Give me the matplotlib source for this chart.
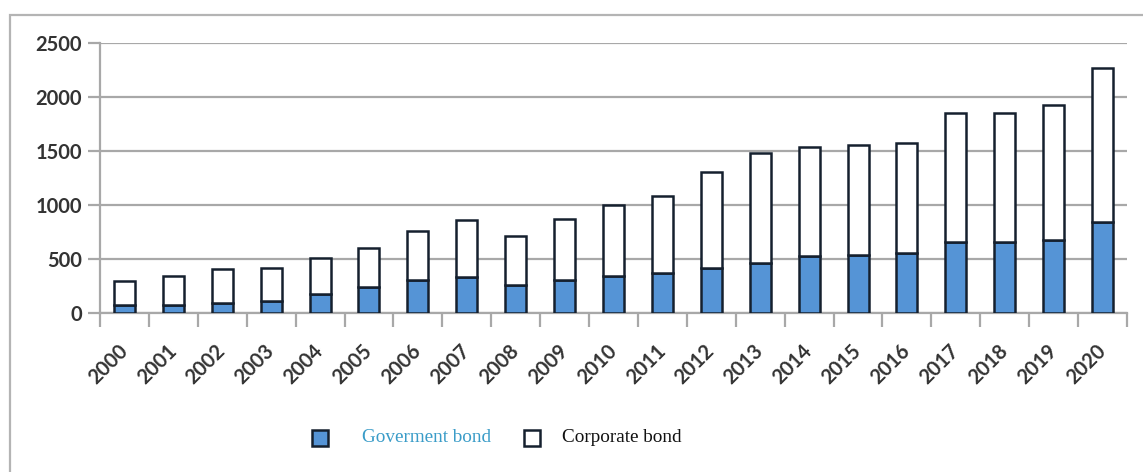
import matplotlib
matplotlib.use("Agg")
import matplotlib.pyplot as plt
from matplotlib.patches import Rectangle
from matplotlib.ticker import FixedLocator, NullFormatter
from matplotlib.transforms import ScaledTranslation
import numpy as np

years = [str(y) for y in range(2000, 2021)]
government = [75, 75, 90, 110, 180, 240, 305, 335, 260, 310, 345,
              370, 415, 465, 530, 540, 560, 655, 660, 675, 840]
total = [295, 345, 405, 420, 510, 600, 755, 860, 715, 875, 1000,
         1080, 1310, 1485, 1535, 1555, 1570, 1850, 1850, 1930, 2270]
corporate = [t - g for t, g in zip(total, government)]
y_ticks = [0, 500, 1000, 1500, 2000, 2500]
series_names = ["Goverment bond", "Corporate bond"]

W, H = 1143, 472
fig = plt.figure(figsize=(W / 100, H / 100), dpi=100)
fig.patch.set_facecolor("white")

# outer frame (left and top edges visible)
fig.add_artist(Rectangle((10 / W, -0.1), 1.2, 1 - 15 / H + 0.1,
                         transform=fig.transFigure, fill=False,
                         edgecolor="#b4b4b4", linewidth=1.6))

ax = fig.add_axes([100 / W, 1 - 313 / H, 1027 / W, 270 / H])
x = np.arange(len(years))
edge = "#15202e"
gov_color = "#5594d6"
bw = 0.43
ax.bar(x, government, width=bw, color=gov_color, edgecolor=edge,
       linewidth=1.8, zorder=3)
ax.bar(x, corporate, bottom=government, width=bw, color="white",
       edgecolor=edge, linewidth=1.8, zorder=3)

ax.set_xlim(-0.5, len(years) - 0.5)
ax.set_ylim(0, 2500)
ax.set_yticks(y_ticks)
ax.yaxis.grid(True, color="#a8a8a8", linewidth=1.6, zorder=0)
ax.set_axisbelow(True)

for s in ["top", "right"]:
    ax.spines[s].set_visible(False)
for s in ["left", "bottom"]:
    ax.spines[s].set_color("#a8a8a8")
    ax.spines[s].set_linewidth(1.6)
ax.spines["left"].set_bounds(0, 2500)

label_font = dict(family="Lato", size=14.5, weight="bold", color="#333333")
ax.tick_params(axis="y", length=9, width=1.6, color="#a8a8a8", pad=4)
for t in ax.get_yticklabels():
    t.set_fontfamily("Lato")
    t.set_fontsize(14.5)
    t.set_fontweight("bold")
    t.set_color("#333333")

# category boundaries carry the tick marks; labels sit at bar centres
ax.xaxis.set_minor_locator(FixedLocator(np.arange(-0.5, len(years), 1.0)))
ax.xaxis.set_minor_formatter(NullFormatter())
ax.tick_params(axis="x", which="minor", length=10, width=1.6, color="#a8a8a8")
ax.set_xticks(x)
ax.set_xticklabels(years, rotation=45, ha="right", rotation_mode="anchor",
                   fontdict=label_font)
ax.tick_params(axis="x", which="major", length=0, pad=20)
shift = ScaledTranslation(-7 / 100, 0, fig.dpi_scale_trans)
for t in ax.get_xticklabels():
    t.set_transform(t.get_transform() + shift)

# legend: swatch + label for each series
legend_items = [
    (312, 362, gov_color, "#3a9cc8"),
    (524, 562, "white", "#111111"),
]
ly = 438
for name, (sx, tx, fc, tc) in zip(series_names, legend_items):
    fig.add_artist(Rectangle((sx / W, 1 - (ly + 8) / H), 16 / W, 16 / H,
                             transform=fig.transFigure, facecolor=fc,
                             edgecolor=edge, linewidth=1.8))
    fig.text(tx / W, 1 - ly / H, name, family="Liberation Serif", size=13.8,
             color=tc, ha="left", va="center")

fig.savefig("out.png", dpi=100, facecolor="white")
